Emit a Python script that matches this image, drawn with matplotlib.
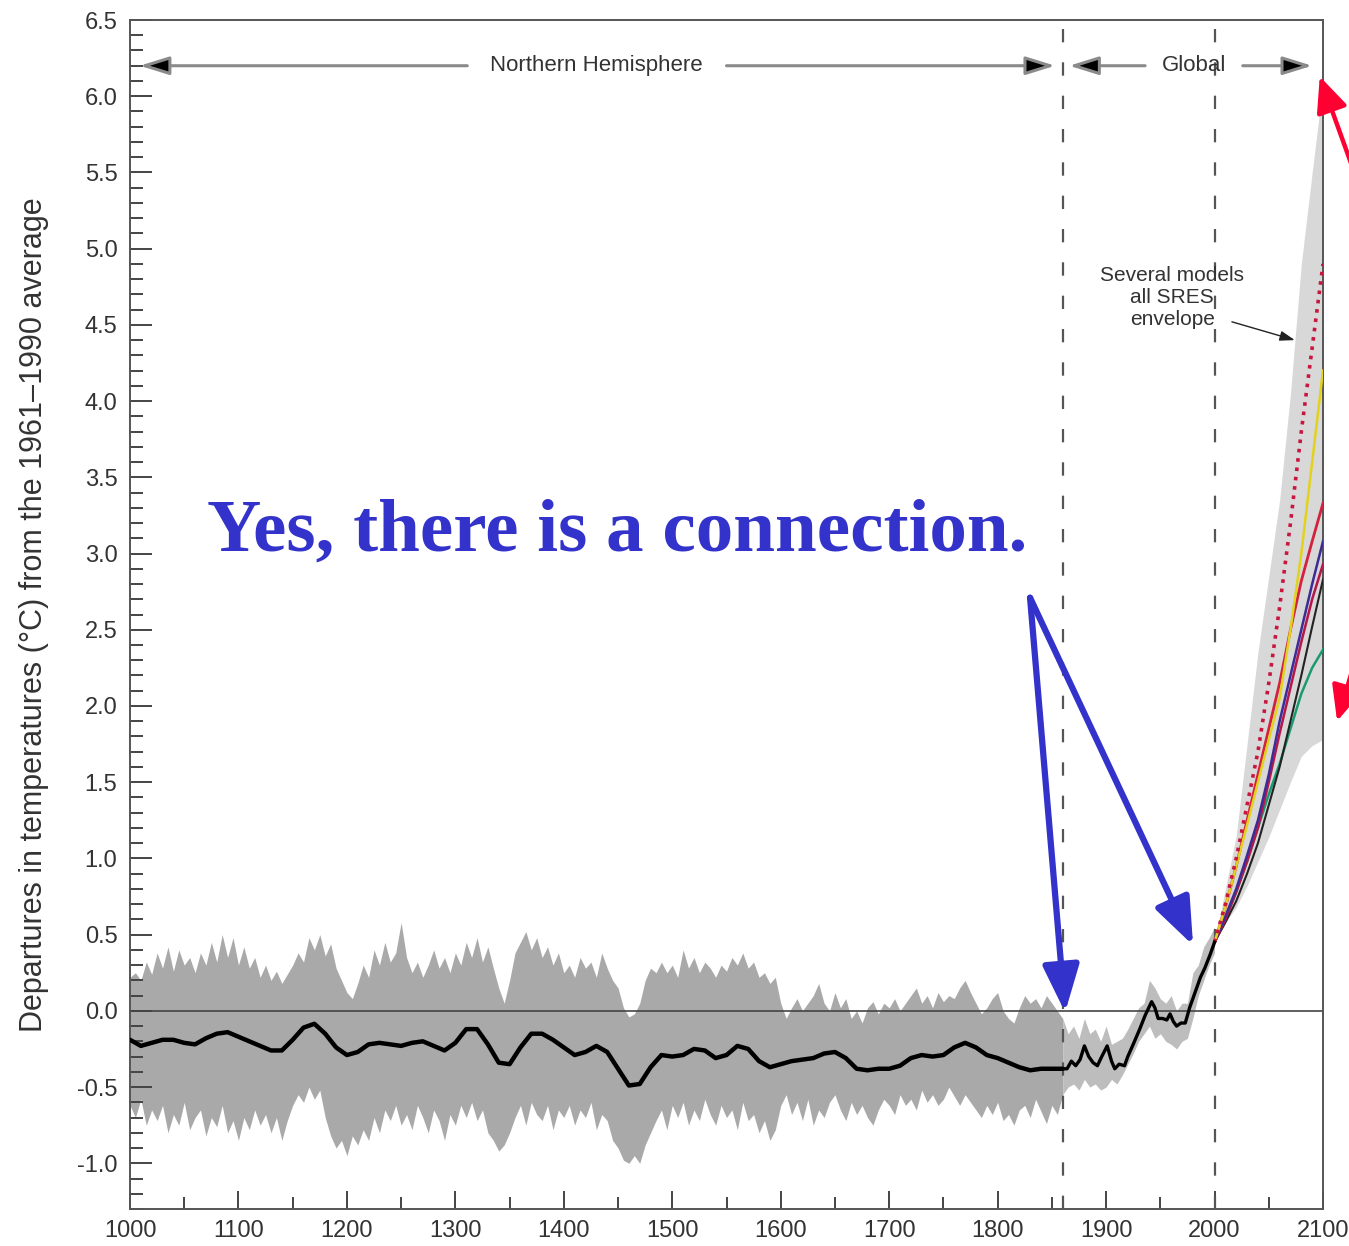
import numpy as np
import matplotlib
matplotlib.use("Agg")
import matplotlib.pyplot as plt
from matplotlib.ticker import MultipleLocator

plt.rcParams['font.family'] = ['Liberation Sans', 'DejaVu Sans']

# ---- data ----
# uncertainty band of the northern hemisphere record, every 5 years 1000-2000
band_years = np.arange(1000, 2001, 5)
band_upper = [
    0.22, 0.25, 0.20, 0.32, 0.24, 0.38, 0.28, 0.42, 0.26, 0.40, 0.30, 0.35, 0.25, 0.38, 0.30, 0.45, 0.32, 0.50, 0.35, 0.48,
    0.30, 0.42, 0.28, 0.35, 0.22, 0.30, 0.20, 0.26, 0.18, 0.24, 0.30, 0.38, 0.32, 0.48, 0.40, 0.50, 0.36, 0.44, 0.28, 0.20,
    0.12, 0.08, 0.18, 0.30, 0.22, 0.40, 0.30, 0.45, 0.32, 0.38, 0.58, 0.35, 0.25, 0.32, 0.22, 0.30, 0.40, 0.28, 0.35, 0.25,
    0.38, 0.30, 0.45, 0.35, 0.48, 0.32, 0.42, 0.28, 0.15, 0.05, 0.20, 0.38, 0.45, 0.52, 0.40, 0.48, 0.35, 0.42, 0.30, 0.38,
    0.25, 0.30, 0.22, 0.35, 0.28, 0.32, 0.22, 0.38, 0.28, 0.20, 0.15, 0.02, -0.04, -0.02, 0.05, 0.20, 0.28, 0.25, 0.32, 0.25,
    0.30, 0.22, 0.40, 0.28, 0.35, 0.25, 0.32, 0.28, 0.22, 0.30, 0.26, 0.35, 0.30, 0.38, 0.28, 0.32, 0.22, 0.25, 0.18, 0.22,
    0.05, -0.05, 0.02, 0.08, 0.00, 0.05, 0.10, 0.18, 0.05, 0.00, 0.12, 0.02, 0.08, -0.05, 0.00, -0.08, 0.02, 0.06, -0.02, 0.05,
    0.02, 0.08, 0.00, 0.05, 0.10, 0.15, 0.05, 0.10, 0.02, 0.12, 0.06, 0.10, 0.08, 0.15, 0.20, 0.12, 0.05, -0.02, 0.02, 0.08,
    0.12, 0.00, -0.05, -0.08, 0.02, 0.10, 0.05, 0.08, 0.02, 0.10, 0.05, 0.00, -0.05, -0.15, -0.10, -0.18, -0.05, -0.15, -0.12, -0.20,
    -0.10, -0.22, -0.20, -0.18, -0.12, -0.05, 0.02, 0.05, 0.20, 0.15, 0.08, 0.05, 0.10, 0.00, 0.05, 0.05, 0.25, 0.30, 0.42, 0.48,
    0.55,
]
band_lower = [
    -0.62, -0.70, -0.58, -0.75, -0.65, -0.72, -0.62, -0.80, -0.68, -0.75, -0.60, -0.78, -0.70, -0.65, -0.82, -0.70, -0.76, -0.62, -0.80, -0.72,
    -0.85, -0.70, -0.78, -0.65, -0.75, -0.68, -0.80, -0.70, -0.85, -0.72, -0.62, -0.55, -0.60, -0.50, -0.58, -0.52, -0.70, -0.82, -0.90, -0.85,
    -0.95, -0.82, -0.88, -0.78, -0.85, -0.70, -0.80, -0.65, -0.72, -0.62, -0.75, -0.68, -0.78, -0.62, -0.70, -0.80, -0.65, -0.72, -0.85, -0.68,
    -0.75, -0.62, -0.70, -0.60, -0.72, -0.65, -0.80, -0.85, -0.92, -0.88, -0.80, -0.70, -0.62, -0.75, -0.60, -0.68, -0.72, -0.62, -0.78, -0.65,
    -0.70, -0.62, -0.75, -0.65, -0.70, -0.60, -0.78, -0.68, -0.72, -0.85, -0.90, -0.98, -1.00, -0.95, -1.00, -0.88, -0.80, -0.72, -0.65, -0.78,
    -0.62, -0.70, -0.60, -0.75, -0.65, -0.72, -0.58, -0.68, -0.75, -0.62, -0.70, -0.65, -0.78, -0.60, -0.72, -0.68, -0.80, -0.72, -0.85, -0.78,
    -0.62, -0.55, -0.68, -0.60, -0.72, -0.58, -0.75, -0.65, -0.70, -0.60, -0.55, -0.65, -0.72, -0.60, -0.68, -0.62, -0.70, -0.75, -0.65, -0.58,
    -0.62, -0.68, -0.55, -0.62, -0.58, -0.65, -0.52, -0.60, -0.55, -0.62, -0.58, -0.50, -0.56, -0.62, -0.55, -0.60, -0.65, -0.70, -0.62, -0.68,
    -0.60, -0.72, -0.68, -0.75, -0.65, -0.62, -0.70, -0.58, -0.66, -0.74, -0.62, -0.68, -0.55, -0.50, -0.48, -0.52, -0.45, -0.50, -0.48, -0.52,
    -0.50, -0.45, -0.48, -0.42, -0.35, -0.28, -0.20, -0.15, -0.10, -0.18, -0.15, -0.20, -0.22, -0.25, -0.20, -0.18, -0.05, 0.10, 0.20, 0.30,
    0.38,
]

# smoothed reconstruction, every 10 years 1000-1860
recon_years = np.arange(1000, 1861, 10)
recon_vals = [
    -0.19, -0.23, -0.21, -0.19, -0.19, -0.21, -0.22, -0.18, -0.15, -0.14,
    -0.17, -0.20, -0.23, -0.26, -0.26, -0.19, -0.11, -0.085, -0.15, -0.24,
    -0.29, -0.27, -0.22, -0.21, -0.22, -0.23, -0.21, -0.20, -0.23, -0.26,
    -0.21, -0.12, -0.12, -0.22, -0.34, -0.35, -0.24, -0.15, -0.15, -0.19,
    -0.24, -0.29, -0.27, -0.23, -0.27, -0.38, -0.49, -0.48, -0.37, -0.29,
    -0.30, -0.29, -0.25, -0.26, -0.31, -0.29, -0.23, -0.25, -0.33, -0.37,
    -0.35, -0.33, -0.32, -0.31, -0.28, -0.27, -0.31, -0.38, -0.39, -0.38,
    -0.38, -0.36, -0.31, -0.29, -0.30, -0.29, -0.24, -0.21, -0.24, -0.29,
    -0.31, -0.34, -0.37, -0.39, -0.38, -0.38, -0.38,
]

# instrumental record
instr_years = [1860, 1864, 1868, 1872, 1876, 1880, 1884, 1888, 1892, 1896, 1901, 1905, 1908, 1912,
               1917, 1920, 1925, 1931, 1936, 1942, 1945, 1948, 1952, 1956, 1959, 1962, 1965, 1969,
               1973, 1977, 1981, 1987, 1991, 1996, 2000]
instr_vals = [-0.38, -0.38, -0.33, -0.36, -0.32, -0.23, -0.30, -0.34, -0.36, -0.30, -0.23, -0.33, -0.38, -0.35,
              -0.36, -0.30, -0.22, -0.12, -0.03, 0.06, 0.02, -0.05, -0.05, -0.06, -0.02, -0.07, -0.10, -0.08,
              -0.08, 0.02, 0.10, 0.22, 0.28, 0.37, 0.45]

# projections 2000-2100
proj_years = [2000, 2010, 2020, 2030, 2040, 2050, 2060, 2070, 2080, 2090, 2100]
env_upper = [0.45, 0.80, 1.15, 1.75, 2.35, 2.85, 3.35, 4.05, 4.90, 5.50, 6.08]
env_lower = [0.45, 0.58, 0.68, 0.82, 0.98, 1.14, 1.32, 1.50, 1.67, 1.74, 1.78]
proj_a1fi = [0.45, 0.70, 1.00, 1.35, 1.70, 2.15, 2.65, 3.20, 3.80, 4.35, 4.90]
proj_yellow = [0.45, 0.68, 0.95, 1.22, 1.50, 1.78, 2.05, 2.50, 3.00, 3.60, 4.20]
proj_red = [0.45, 0.68, 0.95, 1.25, 1.55, 1.85, 2.15, 2.50, 2.82, 3.08, 3.33]
proj_purple = [0.45, 0.62, 0.80, 1.02, 1.25, 1.55, 1.90, 2.20, 2.50, 2.80, 3.08]
proj_crimson = [0.45, 0.60, 0.78, 0.98, 1.20, 1.50, 1.82, 2.12, 2.42, 2.70, 2.93]
proj_black = [0.45, 0.58, 0.72, 0.90, 1.10, 1.35, 1.60, 1.90, 2.20, 2.52, 2.83]
proj_green = [0.45, 0.60, 0.78, 0.98, 1.20, 1.42, 1.62, 1.85, 2.08, 2.25, 2.37]

# ---- figure ----
fig = plt.figure(figsize=(13.49, 12.46), dpi=100)
ax = fig.add_axes([130 / 1349, 1 - 1209 / 1246, 1193 / 1349, 1189 / 1246])

split = list(band_years).index(1860)
ax.fill_between(band_years[:split + 1], band_lower[:split + 1], band_upper[:split + 1],
                color='#a9a9a9', lw=0, zorder=1)
ax.fill_between(band_years[split:], band_lower[split:], band_upper[split:],
                color='#bdbdbd', lw=0, zorder=1)
ax.fill_between(proj_years, env_lower, env_upper, color='#d8d8d8', lw=0, zorder=1)

ax.axhline(0, color='#444444', lw=1.2, zorder=2)
for xv in (1860, 2000):
    ax.axvline(xv, color='#555555', lw=1.6, dashes=(6, 9), zorder=2)

ax.plot(recon_years, recon_vals, color='black', lw=3.2, solid_joinstyle='round',
        solid_capstyle='round', zorder=4)
ax.plot(instr_years, instr_vals, color='black', lw=2.4, solid_joinstyle='round', zorder=4)

ax.plot(proj_years, proj_green, color='#1a9a72', lw=1.8, zorder=3)
ax.plot(proj_years, proj_black, color='#222222', lw=1.5, zorder=3)
ax.plot(proj_years, proj_crimson, color='#b5174b', lw=1.8, zorder=3)
ax.plot(proj_years, proj_purple, color='#3d2b96', lw=1.8, zorder=3)
ax.plot(proj_years, proj_red, color='#d4213d', lw=2.0, zorder=3)
ax.plot(proj_years, proj_yellow, color='#e2d21c', lw=1.8, zorder=3)
ax.plot(proj_years, proj_a1fi, color='#c8163f', lw=2.6, ls=(0, (1, 1.6)), zorder=3)

ax.set_xlim(1000, 2100)
ax.set_ylim(-1.3, 6.5)
ax.xaxis.set_major_locator(MultipleLocator(100))
ax.xaxis.set_minor_locator(MultipleLocator(50))
ax.yaxis.set_minor_locator(MultipleLocator(0.1))
yticks = np.arange(-1.0, 6.51, 0.5)
ax.set_yticks(yticks)
ax.set_yticklabels([f"{v:.1f}" for v in yticks])
ax.tick_params(axis='y', which='major', direction='in', length=16, width=1.4, color='#444444',
               labelsize=17, labelcolor='#333333', pad=9)
ax.tick_params(axis='y', which='minor', direction='in', length=9, width=1.4, color='#444444')
ax.tick_params(axis='x', which='major', direction='in', length=13, width=1.4, color='#444444',
               labelsize=17, labelcolor='#333333', pad=8)
ax.tick_params(axis='x', which='minor', direction='in', length=9, width=1.4, color='#444444')
for s in ax.spines.values():
    s.set_color('#555555')
    s.set_linewidth(1.4)

ax.set_ylabel('Departures in temperatures (\u00b0C) from the 1961\u20131990 average',
              fontsize=22, color='#333333')
ax.yaxis.set_label_coords(-0.068, 0.5)

# region arrows along the top
head = dict(arrowstyle='-|>,head_length=0.9,head_width=0.28', fc='black', ec='#8a8a8a',
            lw=2.2, mutation_scale=20, shrinkA=0, shrinkB=0)
ax.text(1430, 6.2, 'Northern Hemisphere', ha='center', va='center', fontsize=16, color='#333333')
ax.annotate('', xy=(1009, 6.2), xytext=(1311, 6.2), arrowprops=head)
ax.annotate('', xy=(1853, 6.2), xytext=(1550, 6.2), arrowprops=head)
ax.text(1981, 6.2, 'Global', ha='center', va='center', fontsize=16, color='#333333')
ax.annotate('', xy=(1866, 6.2), xytext=(1936, 6.2), arrowprops=head)
ax.annotate('', xy=(2090, 6.2), xytext=(2026, 6.2), arrowprops=head)

ax.text(1961, 4.68, 'Several models\nall SRES\nenvelope', ha='center', va='center',
        fontsize=15, color='#333333', linespacing=1.2)
ax.annotate('', xy=(2074, 4.40), xytext=(2016, 4.52),
            arrowprops=dict(arrowstyle='-|>,head_length=0.6,head_width=0.2', color='#222222',
                            lw=1.0, mutation_scale=15, shrinkA=0, shrinkB=0))

# overlay message and arrows
blue = '#3333cc'
ax.text(1071, 3.02, 'Yes, there is a connection.', ha='left', va='baseline',
        fontsize=54, fontweight='bold', family='Liberation Serif', color=blue, zorder=6)
barrow = dict(arrowstyle='-|>,head_length=0.9,head_width=0.35', color=blue, lw=4.5,
              mutation_scale=32, shrinkA=0, shrinkB=0)
ax.annotate('', xy=(1862.2, -0.01), xytext=(1829.9, 2.71), arrowprops=barrow, zorder=6)
ax.annotate('', xy=(1980.2, 0.43), xytext=(1829.9, 2.71), arrowprops=barrow, zorder=6)

red = '#ff0033'
rarrow = dict(arrowstyle='-|>,head_length=0.9,head_width=0.4', color=red, lw=3.2,
              mutation_scale=24, shrinkA=0, shrinkB=0)
ax.annotate('', xy=(2097, 6.13), xytext=(2138, 5.32), arrowprops=rarrow,
            annotation_clip=False, zorder=6)
ax.annotate('', xy=(2113, 1.90), xytext=(2136, 2.45), arrowprops=rarrow,
            annotation_clip=False, zorder=6)

fig.savefig('out.png', dpi=100)
